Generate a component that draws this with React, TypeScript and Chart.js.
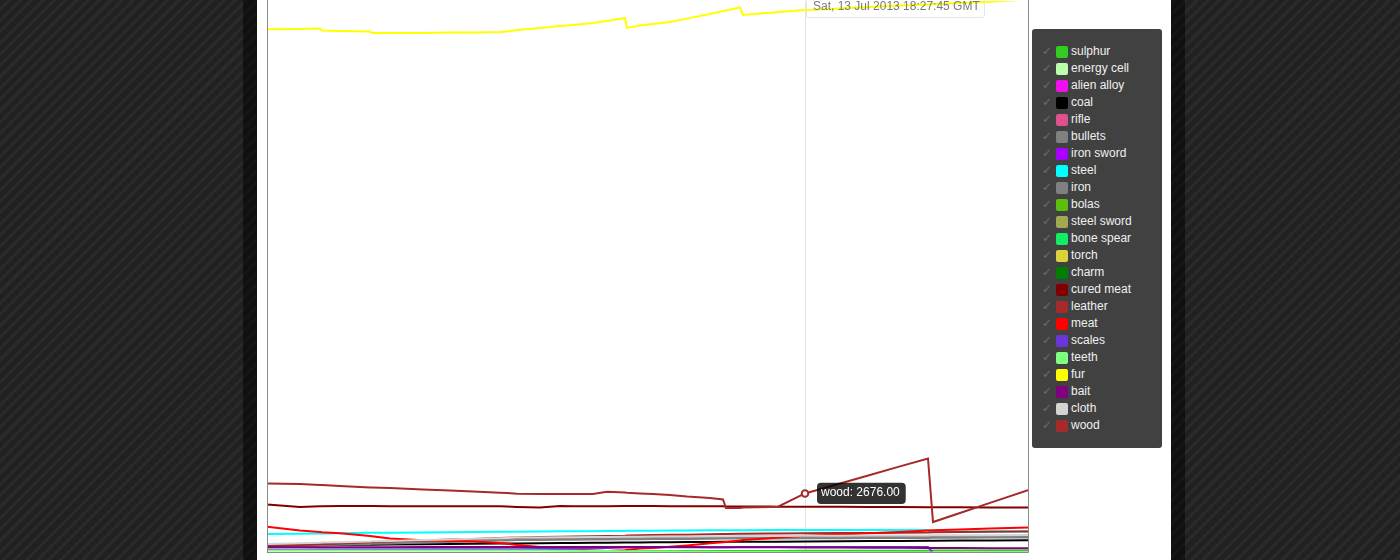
import React, { useEffect, useRef } from 'react';
import { Chart, registerables } from 'chart.js';

Chart.register(...registerables);

// elapsed minutes of the session (x values)
const times = [0, 3.3, 5.3, 5.5, 7.3, 10.3, 10.5, 12.3, 15.6, 18.3, 20.6, 23.3, 24, 25, 27.3, 29.3, 30.6, 32.6, 34, 35.8, 36, 37.3, 38.6, 40.3, 42, 44.3, 45.6, 45.9, 47.3, 47.6, 50.3, 51.1, 53.8, 57.3, 60.3, 63.3, 66.1, 66.6, 69.3, 72.3, 76.1];

const sulphur = [0, 0, 0, 0, 0, 0, 0, 0, 0, 0, 0, 0, 0, 0, 0, 0, 10, 40, 80, 85, 85, 88, 90, 90, 92, 92, 93, 93, 94, 94, 95, 95, 96, 96, 97, 97, 98, 110, 110, 112, 115];
const energyCell = [0, 0, 0, 0, 0, 0, 0, 0, 0, 0, 0, 0, 0, 0, 0, 0, 0, 0, 0, 0, 0, 0, 0, 0, 0, 0, 0, 0, 0, 0, 0, 0, 0, 0, 0, 0, 0, 0, 0, 0, 0];
const alienAlloy = [0, 0, 0, 0, 0, 0, 0, 0, 0, 0, 0, 0, 0, 0, 0, 0, 0, 0, 0, 0, 0, 0, 0, 0, 0, 0, 0, 0, 0, 0, 0, 0, 0, 0, 0, 0, 0, 0, 0, 0, 0];
const coal = [327, 341, 350, 351, 358, 371, 372, 377, 392, 403, 413, 424, 427, 432, 440, 447, 451, 458, 463, 469, 470, 474, 478, 483, 489, 496, 500, 501, 505, 506, 507, 510, 517, 527, 535, 543, 551, 552, 558, 564, 570];
const rifle = [0, 0, 0, 0, 0, 0, 0, 0, 0, 0, 0, 0, 0, 0, 0, 0, 0, 0, 0, 0, 0, 0, 0, 0, 0, 0, 0, 0, 0, 0, 0, 0, 0, 0, 0, 0, 0, 0, 0, 0, 0];
const bullets = [292, 328, 350, 355, 373, 408, 413, 431, 471, 498, 525, 556, 565, 579, 588, 592, 597, 606, 610, 615, 615, 619, 624, 628, 633, 642, 646, 646, 651, 651, 651, 655, 660, 664, 669, 673, 678, 682, 686, 691, 695];
const ironSword = [0, 0, 0, 0, 0, 0, 0, 0, 0, 0, 0, 0, 0, 0, 0, 0, 0, 0, 0, 0, 0, 0, 0, 0, 0, 0, 0, 0, 0, 0, 0, 0, 0, 0, 0, 0, 0, 0, 0, 0, 0];
const steel = [852, 870, 880, 880, 890, 905, 905, 912, 925, 935, 945, 950, 955, 958, 965, 972, 975, 982, 988, 993, 995, 1000, 1003, 1008, 1012, 1018, 1020, 1021, 1024, 1025, 1030, 1031, 1032, 1032, 1033, 1034, 1035, 960, 965, 972, 980];
const iron = [359, 395, 417, 422, 440, 475, 480, 498, 538, 565, 592, 623, 632, 646, 655, 659, 664, 673, 677, 682, 682, 686, 691, 695, 700, 709, 713, 713, 718, 718, 718, 722, 727, 731, 736, 740, 745, 749, 753, 758, 762];
const bolas = [0, 0, 0, 0, 0, 0, 0, 0, 0, 0, 0, 0, 0, 0, 0, 0, 0, 0, 0, 0, 0, 0, 0, 0, 0, 0, 0, 0, 0, 0, 0, 0, 0, 0, 0, 0, 0, 0, 0, 0, 0];
const steelSword = [0, 0, 0, 0, 0, 0, 0, 0, 0, 0, 0, 0, 0, 0, 0, 0, 0, 0, 0, 0, 0, 0, 0, 0, 0, 0, 0, 0, 0, 0, 0, 0, 0, 0, 0, 0, 0, 0, 0, 0, 0];
const boneSpear = [0, 0, 0, 0, 0, 0, 0, 0, 0, 0, 0, 0, 0, 0, 0, 0, 0, 0, 0, 0, 0, 0, 0, 0, 0, 0, 0, 0, 0, 0, 0, 0, 0, 0, 0, 0, 0, 0, 0, 0, 0];
const torch = [0, 0, 0, 0, 0, 0, 0, 0, 0, 0, 0, 0, 0, 0, 0, 0, 0, 0, 0, 0, 0, 0, 0, 0, 0, 0, 0, 0, 0, 0, 0, 0, 0, 0, 0, 0, 0, 0, 0, 0, 0];
const charm = [0, 0, 0, 0, 0, 0, 0, 0, 0, 0, 0, 0, 0, 0, 0, 0, 0, 0, 0, 0, 0, 0, 0, 0, 0, 0, 0, 0, 0, 0, 0, 0, 0, 0, 0, 0, 0, 0, 0, 0, 0];
const curedMeat = [2184, 2070, 2100, 2100, 2110, 2110, 2110, 2105, 2100, 2100, 2095, 2095, 2090, 2070, 2040, 2110, 2100, 2100, 2105, 2110, 2110, 2115, 2110, 2100, 2100, 2095, 2095, 2090, 2090, 2085, 2085, 2080, 2080, 2075, 2070, 2065, 2060, 2055, 2050, 2045, 2040];
const leather = [314, 359, 390, 395, 426, 480, 484, 516, 561, 605, 628, 673, 682, 695, 718, 727, 736, 749, 762, 780, 785, 798, 807, 816, 825, 839, 852, 852, 861, 861, 875, 879, 888, 897, 897, 906, 919, 928, 942, 951, 964];
const meat = [1180, 1009, 942, 933, 884, 762, 749, 650, 570, 538, 516, 449, 413, 359, 269, 211, 157, 112, 90, 121, 135, 202, 224, 278, 336, 435, 480, 493, 561, 583, 659, 695, 771, 830, 884, 942, 1009, 1018, 1054, 1099, 1144];
const scales = [150, 150, 152, 152, 155, 158, 158, 160, 163, 165, 168, 170, 171, 172, 175, 180, 190, 210, 230, 245, 246, 250, 255, 258, 260, 262, 263, 263, 264, 264, 265, 265, 266, 267, 268, 269, 270, 0, 0, 0, 0];
const teeth = [112, 112, 112, 112, 112, 112, 112, 112, 112, 112, 112, 112, 110, 110, 108, 105, 100, 95, 85, 80, 80, 75, 70, 65, 60, 55, 50, 50, 45, 45, 40, 40, 35, 30, 30, 25, 25, 25, 20, 20, 20];
const fur = [23533, 23546, 23560, 23470, 23457, 23434, 23367, 23367, 23367, 23380, 23389, 23412, 23434, 23501, 23591, 23681, 23726, 23815, 23905, 24040, 23591, 23703, 23771, 23860, 24008, 24219, 24354, 24376, 24510, 24174, 24277, 24309, 24398, 24466, 24533, 24600, 24645, 24659, 24712, 24766, 24869];
const bait = [256, 258, 259, 259, 260, 262, 262, 263, 265, 267, 268, 270, 270, 271, 272, 273, 273, 273, 273, 272, 272, 271, 270, 268, 266, 263, 261, 261, 259, 258, 256, 255, 250, 245, 240, 235, 230, 229, 224, 218, 211];
const cloth = [404, 440, 462, 467, 485, 520, 525, 543, 583, 610, 637, 668, 677, 691, 700, 704, 709, 718, 722, 727, 727, 731, 736, 740, 745, 754, 758, 758, 763, 763, 763, 767, 772, 776, 781, 785, 790, 794, 798, 803, 807];
const wood = [3117, 3095, 3050, 3050, 3005, 2938, 2938, 2915, 2848, 2812, 2758, 2704, 2691, 2660, 2646, 2646, 2646, 2646, 2749, 2713, 2704, 2678, 2646, 2601, 2534, 2467, 2408, 2018, 2018, 2041, 2063, 2077, 2676, 3126, 3507, 3893, 4247, 1390, 1798, 2251, 2826];

const seriesNames = ['sulphur', 'energy cell', 'alien alloy', 'coal', 'rifle', 'bullets', 'iron sword', 'steel', 'iron', 'bolas', 'steel sword', 'bone spear', 'torch', 'charm', 'cured meat', 'leather', 'meat', 'scales', 'teeth', 'fur', 'bait', 'cloth', 'wood'];
const seriesColors = ['#33cc22', '#bbffaa', '#ee11ee', '#000000', '#e0508a', '#808080', '#aa00ff', '#00ffff', '#808080', '#5cbf10', '#a3a852', '#11ee66', '#dcd13c', '#008000', '#800000', '#a52a2a', '#ff0000', '#6a35d9', '#80ff80', '#ffff00', '#800080', '#d3d3d3', '#a52a2a'];
const seriesValues = [sulphur, energyCell, alienAlloy, coal, rifle, bullets, ironSword, steel, iron, bolas, steelSword, boneSpear, torch, charm, curedMeat, leather, meat, scales, teeth, fur, bait, cloth, wood];

const xMin = 0;
const xMax = 76.1;
const yMin = 0;
const yMax = 24800;
const hoverSeries = 'wood';
const hoverIndex = 32;
const hoverDate = 'Sat, 13 Jul 2013 18:27:45 GMT';

const FONT = "'Liberation Sans', Arial, sans-serif";

export default function App() {
  const canvasRef = useRef<HTMLCanvasElement | null>(null);

  useEffect(() => {
    document.body.style.margin = '0';
    const canvas = canvasRef.current;
    if (!canvas) return;
    const hoverDs = seriesNames.indexOf(hoverSeries);
    const n = seriesNames.length;

    const overlay = {
      id: 'overlay',
      beforeDatasetsDraw(chart: any) {
        const { ctx, chartArea } = chart;
        const el = chart.getDatasetMeta(hoverDs).data[hoverIndex];
        if (!el) return;
        ctx.save();
        ctx.strokeStyle = '#e2e2e2';
        ctx.lineWidth = 1;
        const x = Math.round(el.x) + 0.5;
        ctx.beginPath();
        ctx.moveTo(x, chartArea.top);
        ctx.lineTo(x, chartArea.bottom);
        ctx.stroke();
        ctx.restore();
      },
      afterDatasetsDraw(chart: any) {
        const { ctx, chartArea } = chart;
        ctx.save();
        ctx.strokeStyle = '#8a8a8a';
        ctx.lineWidth = 1;
        const l = Math.floor(chartArea.left) + 0.5;
        const r = Math.floor(chartArea.right) + 0.5;
        const b = Math.floor(chartArea.bottom) - 0.5;
        ctx.beginPath();
        ctx.moveTo(l, chartArea.top - 1);
        ctx.lineTo(l, b);
        ctx.lineTo(r, b);
        ctx.lineTo(r, chartArea.top - 1);
        ctx.stroke();
        const el = chart.getDatasetMeta(hoverDs).data[hoverIndex];
        if (el) {
          ctx.beginPath();
          ctx.arc(el.x, el.y, 3.3, 0, Math.PI * 2);
          ctx.fillStyle = '#ffffff';
          ctx.fill();
          ctx.lineWidth = 2;
          ctx.strokeStyle = seriesColors[hoverDs];
          ctx.stroke();
        }
        ctx.restore();
      },
    };

    const chart = new Chart(canvas, {
      type: 'line',
      data: {
        datasets: seriesNames.map((name, i) => ({
          label: name,
          data: times.map((t, k) => ({ x: t, y: seriesValues[i][k] })),
          borderColor: seriesColors[i],
          backgroundColor: seriesColors[i],
          borderWidth: 2,
          pointRadius: 0,
          pointHoverRadius: 0,
          pointHitRadius: 0,
          fill: false,
          tension: 0,
          order: n - 1 - i,
        })),
      },
      options: {
        responsive: false,
        animation: false,
        events: [],
        layout: { padding: { left: 10, right: 143, top: 0, bottom: 7 } },
        scales: {
          x: { type: 'linear', min: xMin, max: xMax, display: false },
          y: { type: 'linear', min: yMin, max: yMax, display: false },
        },
        plugins: {
          legend: { display: false },
          title: { display: false },
          tooltip: {
            enabled: true,
            xAlign: 'left',
            yAlign: 'center',
            caretSize: 0,
            caretPadding: 12,
            cornerRadius: 4,
            backgroundColor: 'rgba(0,0,0,0.8)',
            bodyColor: '#ffffff',
            bodyFont: { family: FONT, size: 12 },
            padding: { left: 4, right: 6, top: 3, bottom: 4 },
            displayColors: false,
            callbacks: {
              title: () => [],
              label: (c: any) => `${c.dataset.label}: ${c.parsed.y.toFixed(2)}`,
            },
          },
        },
      },
      plugins: [overlay],
    } as any);

    const el: any = chart.getDatasetMeta(hoverDs).data[hoverIndex];
    if (el && chart.tooltip) {
      chart.tooltip.setActiveElements([{ datasetIndex: hoverDs, index: hoverIndex }], { x: el.x, y: el.y });
      chart.update();
    }
    return () => chart.destroy();
  }, []);

  return (
    <div
      style={{
        position: 'relative',
        width: 1400,
        height: 560,
        overflow: 'hidden',
        background: 'repeating-linear-gradient(135deg, #212121 0px, #212121 5px, #2a2a2a 5px, #2a2a2a 8px)',
        fontFamily: FONT,
      }}
    >
      <style>{'body{margin:0;}'}</style>
      <div
        style={{
          position: 'absolute',
          left: 243,
          top: 0,
          width: 914,
          height: 560,
          borderLeft: '14px solid rgba(0,0,0,0.5)',
          borderRight: '14px solid rgba(0,0,0,0.5)',
          background: '#ffffff',
          backgroundClip: 'padding-box',
        }}
      >
        <canvas ref={canvasRef} width={914} height={560} style={{ display: 'block', width: 914, height: 560 }} />
      </div>
      <div
        style={{
          position: 'absolute',
          left: 806,
          top: -6,
          padding: '4px 6px',
          lineHeight: '14px',
          fontSize: 12,
          color: '#7a7a7a',
          border: '1px solid #e6e6e6',
          borderRadius: 3,
          whiteSpace: 'nowrap',
          width: 165,
        }}
      >
        {hoverDate}
      </div>
      <div
        style={{
          position: 'absolute',
          left: 1032,
          top: 29,
          width: 130,
          height: 419,
          background: '#414141',
          borderRadius: 3,
          boxSizing: 'border-box',
          paddingTop: 14,
          paddingLeft: 10,
        }}
      >
        {seriesNames.map((name, i) => (
          <div key={name} style={{ height: 17, display: 'flex', alignItems: 'center', whiteSpace: 'nowrap' }}>
            <span style={{ width: 14, fontSize: 12, color: '#6c6c6c', fontFamily: "'DejaVu Sans', sans-serif", lineHeight: '17px' }}>✓</span>
            <span style={{ width: 12, height: 12, background: seriesColors[i], borderRadius: 2, marginRight: 3, flex: 'none' }} />
            <span style={{ fontSize: 12, color: '#f0f0f0', lineHeight: '17px' }}>{name}</span>
          </div>
        ))}
      </div>
    </div>
  );
}
